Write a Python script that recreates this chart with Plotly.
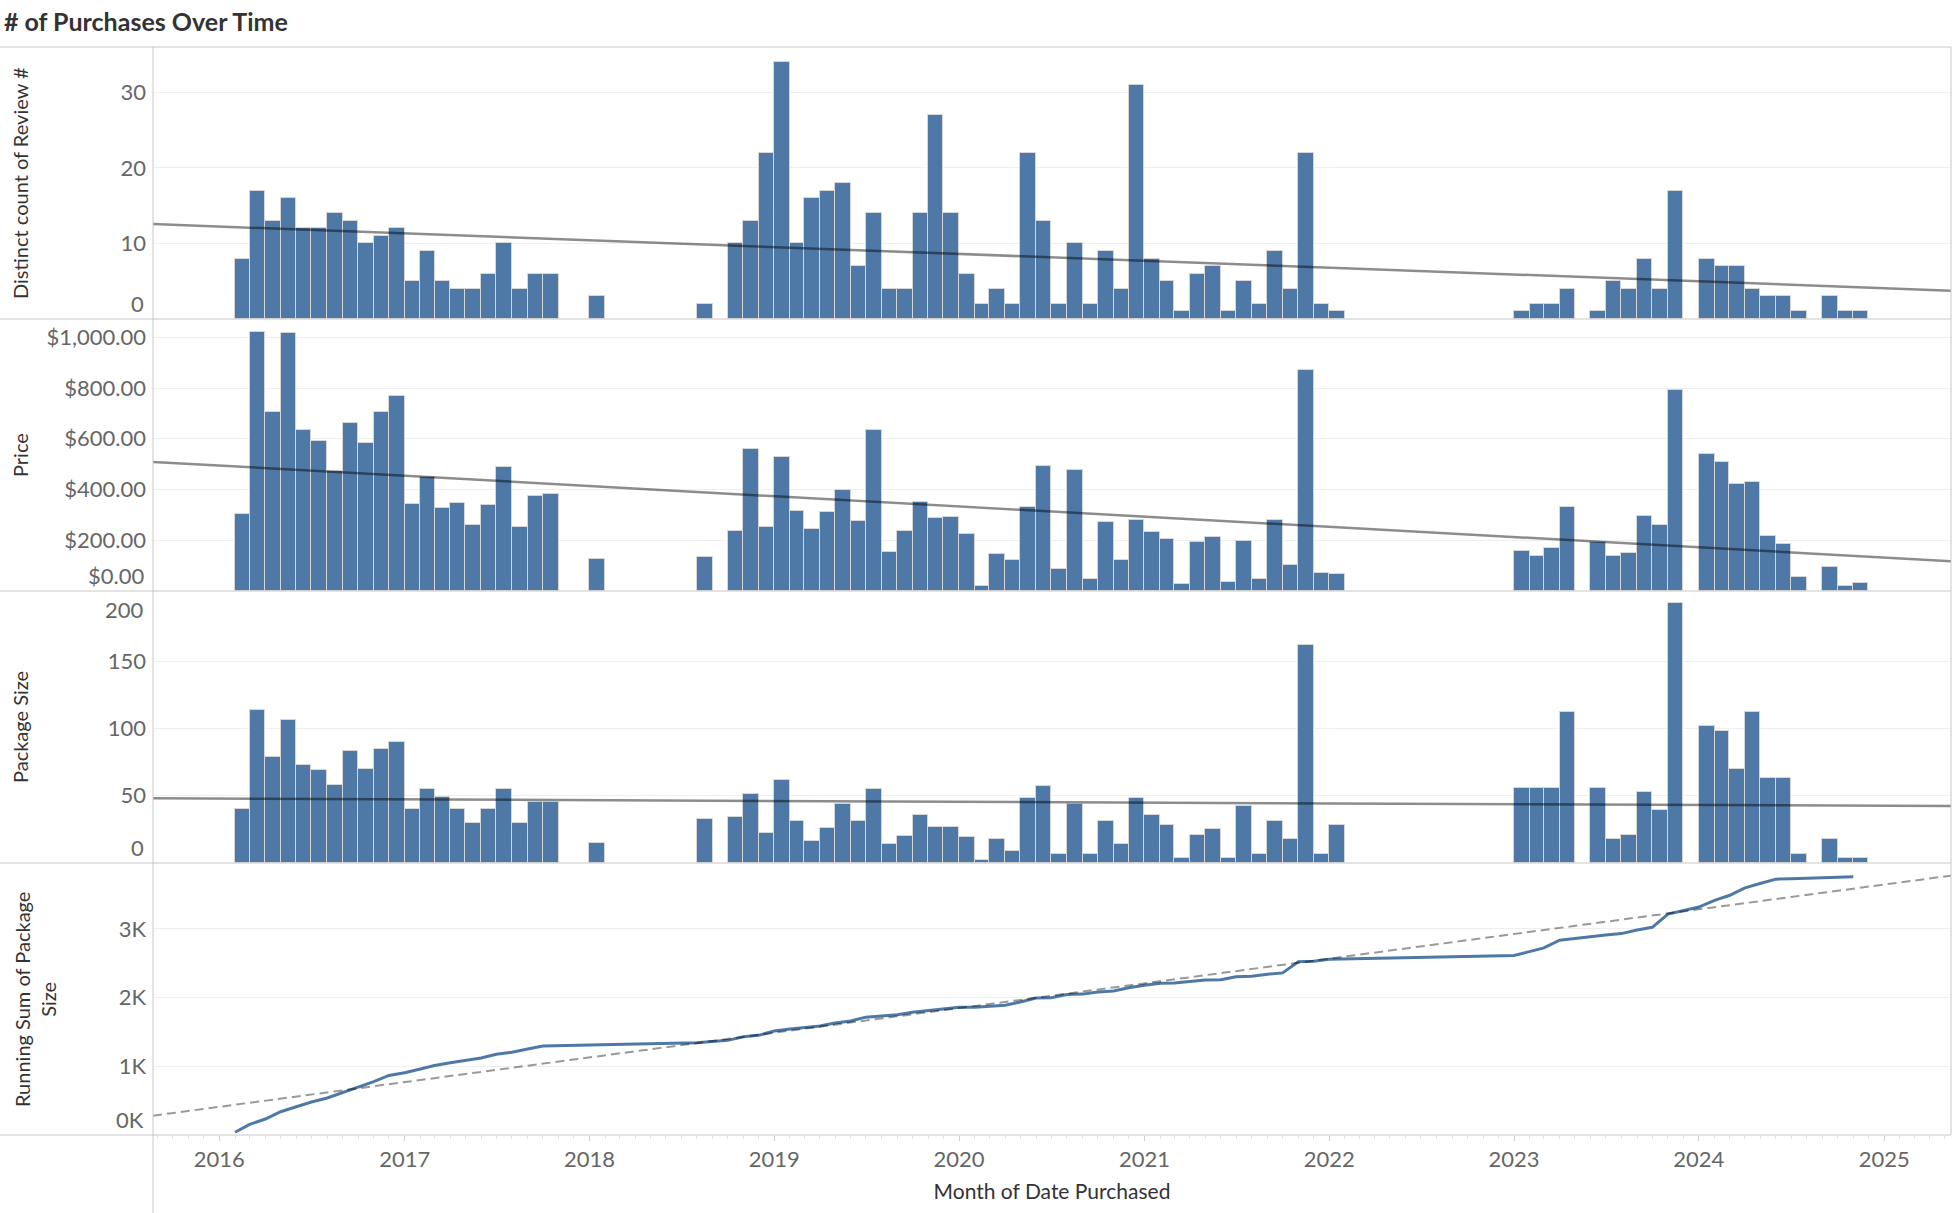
import numpy as np
import pandas as pd
import plotly.graph_objects as go
from plotly.subplots import make_subplots

# ---------------- data ----------------
months = [
    "2016-02", "2016-03", "2016-04", "2016-05", "2016-06", "2016-07", "2016-08", "2016-09", "2016-10", "2016-11", "2016-12",
    "2017-01", "2017-02", "2017-03", "2017-04", "2017-05", "2017-06", "2017-07", "2017-08", "2017-09", "2017-10",
    "2018-01", "2018-08", "2018-10", "2018-11", "2018-12",
    "2019-01", "2019-02", "2019-03", "2019-04", "2019-05", "2019-06", "2019-07", "2019-08", "2019-09", "2019-10", "2019-11", "2019-12",
    "2020-01", "2020-02", "2020-03", "2020-04", "2020-05", "2020-06", "2020-07", "2020-08", "2020-09", "2020-10", "2020-11", "2020-12",
    "2021-01", "2021-02", "2021-03", "2021-04", "2021-05", "2021-06", "2021-07", "2021-08", "2021-09", "2021-10", "2021-11", "2021-12",
    "2022-01",
    "2023-01", "2023-02", "2023-03", "2023-04", "2023-06", "2023-07", "2023-08", "2023-09", "2023-10", "2023-11",
    "2024-01", "2024-02", "2024-03", "2024-04", "2024-05", "2024-06", "2024-07", "2024-09", "2024-10", "2024-11",
]

review_counts = [
    8, 17, 13, 16, 12, 12, 14, 13, 10, 11, 12,
    5, 9, 5, 4, 4, 6, 10, 4, 6, 6,
    3, 2, 10, 13, 22,
    34, 10, 16, 17, 18, 7, 14, 4, 4, 14, 27, 14,
    6, 2, 4, 2, 22, 13, 2, 10, 2, 9, 4, 31,
    8, 5, 1, 6, 7, 1, 5, 2, 9, 4, 22, 2,
    1,
    1, 2, 2, 4, 1, 5, 4, 8, 4, 17,
    8, 7, 7, 4, 3, 3, 1, 3, 1, 1,
]

prices = [
    302, 1020, 704, 1016, 634, 593, 471, 664, 583, 704, 767,
    342, 451, 329, 345, 262, 337, 488, 254, 376, 382,
    128, 133, 238, 559, 254,
    528, 317, 243, 313, 400, 274, 634, 155, 238, 349, 289, 293,
    226, 21, 147, 124, 333, 492, 86, 475, 46, 271, 124, 278,
    232, 203, 29, 192, 214, 37, 199, 46, 278, 104, 870, 72,
    68,
    157, 137, 168, 333, 192, 137, 149, 297, 262, 791,
    538, 507, 420, 428, 218, 187, 54, 96, 21, 33,
]

package_sizes = [
    40, 114, 79, 106, 73, 69, 58, 83, 70, 85, 90,
    40, 55, 49, 40, 30, 40, 55, 30, 45, 45,
    15, 33, 34, 51, 22,
    62, 31, 16, 26, 44, 31, 55, 14, 20, 36, 27, 27,
    19, 2, 18, 9, 48, 57, 7, 44, 7, 31, 14, 48,
    36, 28, 4, 21, 25, 4, 42, 7, 31, 18, 162, 7,
    28,
    56, 56, 56, 112, 56, 18, 21, 53, 39, 193,
    102, 98, 70, 112, 63, 63, 7, 18, 4, 4,
]

review_ticks = [0, 10, 20, 30]
review_tick_labels = ["0", "10", "20", "30"]
price_ticks = [0, 200, 400, 600, 800, 1000]
price_tick_labels = ["$0.00", "$200.00", "$400.00", "$600.00", "$800.00", "$1,000.00"]
package_ticks = [0, 50, 100, 150, 200]
package_tick_labels = ["0", "50", "100", "150", "200"]
running_ticks = [0, 1000, 2000, 3000]
running_tick_labels = ["0K", "1K", "2K", "3K"]

panel_titles = ["Distinct count of Review #", "Price", "Package Size", "Running Sum of Package<br>Size"]
chart_title = "# of Purchases Over Time"
x_title = "Month of Date Purchased"

# ---------------- derived ----------------
dates = pd.to_datetime(months)
month_ms = (pd.PeriodIndex(months, freq="M").days_in_month * 86400000).tolist()
running_sum = np.cumsum(package_sizes)

x_range = ["2015-08-23", "2025-05-13"]
x_range_dt = pd.to_datetime(x_range)


def trend(values):
    t = (dates - pd.Timestamp("2016-01-01")).days.values.astype(float)
    b1, b0 = np.polyfit(t, np.asarray(values, float), 1)
    te = (x_range_dt - pd.Timestamp("2016-01-01")).days.values.astype(float)
    return b0 + b1 * te


# ---------------- styling ----------------
W, H = 1953, 1213
ML, MR, MT, MB = 153, 2, 47, 78
PW, PH = W - ML - MR, H - MT - MB
BLUE = "#4e79a7"
FONT = "Lato, 'Open Sans', sans-serif"
TICK_FONT = dict(family=FONT, size=22, color="#666666")
TITLE_FONT = dict(family=FONT, size=20, color="#333333")
TREND_COLOR = "rgba(0,0,0,0.45)"
BORDER = "#c8c8c8"

fig = make_subplots(rows=4, cols=1, shared_xaxes=True, vertical_spacing=0)

bar_series = [review_counts, prices, package_sizes]
for i, vals in enumerate(bar_series, start=1):
    fig.add_trace(go.Bar(
        x=dates, y=vals, width=month_ms,
        xperiod="M1", xperiodalignment="middle",
        marker=dict(color=BLUE, line=dict(color="#d6d6d6", width=1)),
        hoverinfo="x+y",
    ), row=i, col=1)
    fig.add_trace(go.Scatter(
        x=x_range_dt, y=trend(vals), mode="lines",
        line=dict(color=TREND_COLOR, width=2.5), hoverinfo="skip",
    ), row=i, col=1)

fig.add_trace(go.Scatter(
    x=dates, y=running_sum, mode="lines",
    line=dict(color=BLUE, width=3), hoverinfo="x+y",
), row=4, col=1)
fig.add_trace(go.Scatter(
    x=x_range_dt, y=trend(running_sum), mode="lines",
    line=dict(color="rgba(0,0,0,0.4)", width=2, dash="9px,5px"), hoverinfo="skip",
), row=4, col=1)

domains = [[0.75, 1.0], [0.5, 0.75], [0.25, 0.5], [0.0, 0.25]]
y_ranges = [[0, 36], [0, 1072], [0, 202], [0, 3960]]
tick_sets = [
    (review_ticks, review_tick_labels, [0]),
    (price_ticks, price_tick_labels, [0]),
    (package_ticks, package_tick_labels, [0, 200]),
    (running_ticks, running_tick_labels, [0]),
]

annotations = []
for i in range(4):
    name = "yaxis" if i == 0 else f"yaxis{i + 1}"
    yref = "y" if i == 0 else f"y{i + 1}"
    vals, labels, edge = tick_sets[i]
    inner_vals = [v for v in vals if v not in edge]
    inner_labels = [l for v, l in zip(vals, labels) if v not in edge]
    fig.layout[name].update(
        domain=domains[i], range=y_ranges[i],
        tickmode="array", tickvals=inner_vals, ticktext=inner_labels,
        showgrid=True, gridcolor="#efefef", gridwidth=1,
        zeroline=False, showline=False, ticks="",
        tickfont=TICK_FONT, ticklabelstandoff=6, fixedrange=True,
    )
    for v, l in zip(vals, labels):
        if v in edge:
            at_top = v >= y_ranges[i][1] * 0.9
            annotations.append(dict(
                xref="paper", x=0, xanchor="right", xshift=-7,
                yref=yref, y=v, yanchor="top" if at_top else "bottom",
                text=l, showarrow=False, font=TICK_FONT,
            ))
    title_x = -(ML - 20) / PW if i < 3 else -(ML - 35) / PW
    annotations.append(dict(
        xref="paper", x=title_x, xanchor="center",
        yref=f"{yref} domain", y=0.5, yanchor="middle",
        text=panel_titles[i], textangle=-90, showarrow=False,
        font=TITLE_FONT,
    ))

for i in range(1, 5):
    name = "xaxis" if i == 1 else f"xaxis{i}"
    fig.layout[name].update(range=x_range, showgrid=False, zeroline=False,
                            showline=False, fixedrange=True)

fig.layout["xaxis4"].update(
    type="date", tickformat="%Y", dtick="M12", tick0="2016-01-01",
    ticks="outside", ticklen=5, tickcolor="#cfcfcf", tickwidth=1,
    minor=dict(ticks="outside", ticklen=3, tickcolor="#e2e2e2", dtick="M1"),
    tickfont=TICK_FONT,
    title=dict(text=x_title, font=dict(family=FONT, size=21, color="#333333"), standoff=12),
)
for i in (1, 2, 3):
    name = "xaxis" if i == 1 else f"xaxis{i}"
    fig.layout[name].update(showticklabels=False, ticks="")

x_left = -ML / PW
shapes = [
    dict(type="line", xref="paper", yref="paper", x0=x_left, x1=1, y0=1, y1=1,
         line=dict(color=BORDER, width=1)),
    dict(type="line", xref="paper", yref="paper", x0=0, x1=0, y0=-MB / PH, y1=1,
         line=dict(color=BORDER, width=1)),
    dict(type="line", xref="paper", yref="paper", x0=1, x1=1, y0=0, y1=1,
         line=dict(color=BORDER, width=1)),
]
for yb in (0.75, 0.5, 0.25, 0.0):
    shapes.append(dict(type="line", xref="paper", yref="paper", x0=x_left, x1=1,
                       y0=yb, y1=yb, line=dict(color=BORDER, width=1)))

fig.update_layout(
    width=W, height=H,
    margin=dict(l=ML, r=MR, t=MT, b=MB),
    paper_bgcolor="white", plot_bgcolor="white",
    bargap=0, showlegend=False,
    font=dict(family=FONT, color="#333333"),
    title=dict(text=chart_title, xref="container", yref="container",
               x=0.002, xanchor="left", y=1 - 22 / H, yanchor="middle",
               font=dict(family=FONT, size=25, color="#333333", weight="bold")),
    annotations=annotations, shapes=shapes,
)

fig.write_html("out.html", config={"displayModeBar": False},
               post_script="document.body.style.margin='0';")
